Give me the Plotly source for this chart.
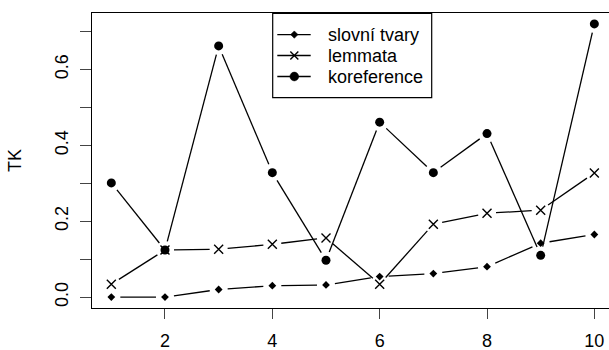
import numpy as np
import plotly.graph_objects as go

x_vals = [1, 2, 3, 4, 5, 6, 7, 8, 9, 10]
slovni_tvary = [0.0, 0.0, 0.020, 0.030, 0.032, 0.054, 0.062, 0.080, 0.142, 0.165]
lemmata = [0.034, 0.124, 0.126, 0.139, 0.156, 0.034, 0.192, 0.221, 0.229, 0.327]
koreference = [0.301, 0.124, 0.662, 0.328, 0.097, 0.461, 0.328, 0.431, 0.110, 0.720]
series_names = ["slovní tvary", "lemmata", "koreference"]
x_ticks = [2, 4, 6, 8, 10]
y_ticks = [0.0, 0.1, 0.2, 0.3, 0.4, 0.5, 0.6, 0.7]
y_ticktext = ["0.0", "", "0.2", "", "0.4", "", "0.6", ""]

W, H = 609, 350
ML, MR, MT, MB = 92, 0, 13, 42
FONT = "Liberation Sans, Arial, sans-serif"
FS = 18

ymin, ymax = 0.0, max(koreference)
yext = (ymax - ymin) * 0.04
yr = [ymin - yext, ymax + yext]
xext = (10 - 1) * 0.04
pw = W - ML - MR
ph = H - MT - MB
# R box would extend past the right edge; keep the same px/unit scaling
px_per_x = 53.67
xr = [1 - xext, 1 - xext + pw / px_per_x]
sx = pw / (xr[1] - xr[0])
sy = ph / (yr[1] - yr[0])

GAP = 9.0


def gapped(xs, ys):
    gx, gy = [], []
    for i in range(len(xs) - 1):
        dx = (xs[i + 1] - xs[i]) * sx
        dy = (ys[i + 1] - ys[i]) * sy
        L = np.hypot(dx, dy)
        if L <= 2 * GAP:
            continue
        f = GAP / L
        gx += [xs[i] + f * (xs[i + 1] - xs[i]), xs[i + 1] - f * (xs[i + 1] - xs[i]), None]
        gy += [ys[i] + f * (ys[i + 1] - ys[i]), ys[i + 1] - f * (ys[i + 1] - ys[i]), None]
    return gx, gy


markers = [
    dict(symbol="diamond", size=6, color="black"),
    dict(symbol="x-thin", size=9, color="black", line=dict(color="black", width=1.4)),
    dict(symbol="circle", size=9, color="black"),
]

fig = go.Figure()
for name, ys in zip(series_names, [slovni_tvary, lemmata, koreference]):
    gx, gy = gapped(x_vals, ys)
    fig.add_trace(go.Scatter(x=gx, y=gy, mode="lines", line=dict(color="black", width=1.3),
                             showlegend=False, hoverinfo="skip", cliponaxis=False))
for name, ys, mk in zip(series_names, [slovni_tvary, lemmata, koreference], markers):
    fig.add_trace(go.Scatter(x=x_vals, y=ys, mode="markers", marker=mk, name=name,
                             showlegend=False, cliponaxis=False))


# ---- manual legend (R style) in paper coordinates ----
def px(xp):
    return (xp - ML) / pw


def py(yp):
    return 1 - (yp - MT) / ph


shapes = []
annotations = []
box = dict(x0=272.7, x1=431.7, y0=13.3, y1=97.7)
shapes.append(dict(type="rect", xref="paper", yref="paper", x0=px(box["x0"]), x1=px(box["x1"]),
                   y0=py(box["y1"]), y1=py(box["y0"]), line=dict(color="black", width=1.2),
                   fillcolor="white", layer="above"))
rows = [34.6, 55.5, 76.5]
lx0, lx1, mx, tx = 277.3, 310.7, 294.3, 326.0
for i, (name, ry) in enumerate(zip(series_names, rows)):
    shapes.append(dict(type="line", xref="paper", yref="paper", x0=px(lx0), x1=px(lx1),
                       y0=py(ry), y1=py(ry), line=dict(color="black", width=1.3), layer="above"))
    if i == 0:
        r = 3.7
        path = "M {},{} L {},{} L {},{} L {},{} Z".format(
            px(mx - r), py(ry), px(mx), py(ry - r), px(mx + r), py(ry), px(mx), py(ry + r))
        shapes.append(dict(type="path", xref="paper", yref="paper", path=path,
                           fillcolor="black", line=dict(color="black", width=0.5), layer="above"))
    elif i == 1:
        r = 4.0
        for s in (1, -1):
            shapes.append(dict(type="line", xref="paper", yref="paper", x0=px(mx - r), x1=px(mx + r),
                               y0=py(ry - s * r), y1=py(ry + s * r),
                               line=dict(color="black", width=1.4), layer="above"))
    else:
        r = 4.4
        shapes.append(dict(type="circle", xref="paper", yref="paper", x0=px(mx - r), x1=px(mx + r),
                           y0=py(ry + r), y1=py(ry - r), fillcolor="black",
                           line=dict(color="black", width=0.5), layer="above"))
    annotations.append(dict(text=name, xref="paper", yref="paper", x=px(tx), y=py(ry),
                            xanchor="left", yanchor="middle", showarrow=False,
                            font=dict(family=FONT, size=FS, color="black")))

fig.update_layout(
    width=W, height=H,
    margin=dict(l=ML, r=MR, t=MT, b=MB, autoexpand=False),
    paper_bgcolor="white", plot_bgcolor="white",
    font=dict(family=FONT, size=FS, color="black"),
    showlegend=False,
    shapes=shapes, annotations=annotations,
    xaxis=dict(range=xr, tickvals=x_ticks, ticks="outside", ticklen=10, tickwidth=1.3,
               showline=True, linecolor="black", linewidth=1.3, mirror=True,
               showgrid=False, zeroline=False, tickfont=dict(family=FONT, size=FS),
               ticklabelstandoff=6, automargin=False),
    yaxis=dict(range=yr, tickvals=y_ticks, ticktext=y_ticktext, ticks="outside", ticklen=11,
               tickwidth=1.3, tickangle=-90, showline=True, linecolor="black", linewidth=1.3,
               mirror=False, showgrid=False, zeroline=False,
               tickfont=dict(family=FONT, size=FS), ticklabelstandoff=5, automargin=False,
               title=dict(text="TK", font=dict(family=FONT, size=FS), standoff=25)),
)

fig.write_html("out.html")
